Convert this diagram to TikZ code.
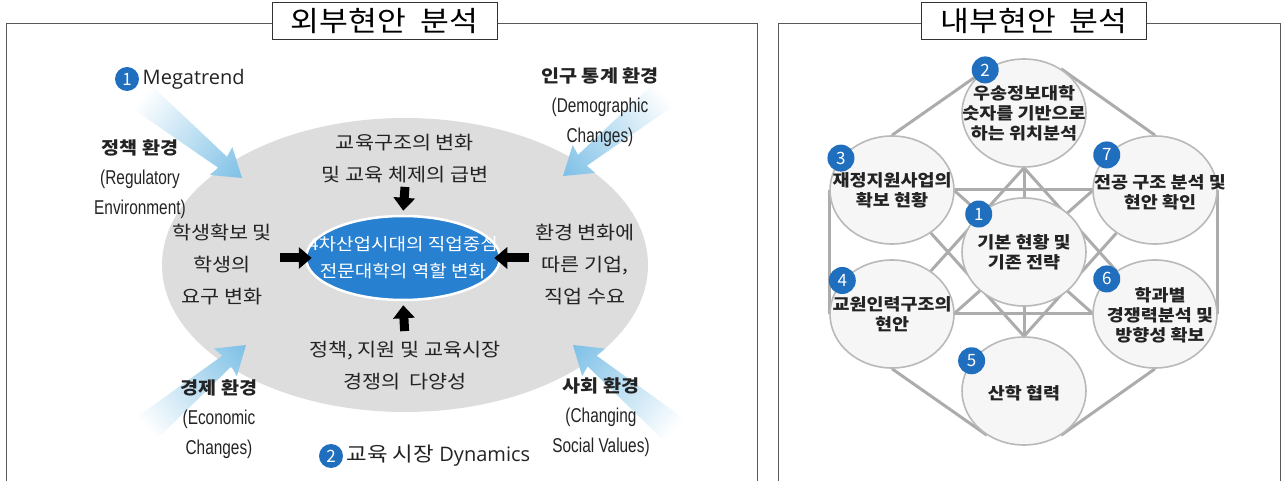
\documentclass[tikz,border=0pt]{standalone}
\usepackage{fontspec}
\setmainfont{Liberation Sans}
\newfontfamily\kr[FakeStretch=1.12]{Noto Sans CJK KR}
\newfontfamily\krplain{Noto Sans CJK KR}
\newfontfamily\narrow[FakeStretch=0.77]{Liberation Sans}
\newfontfamily\open{Open Sans}
\usetikzlibrary{shapes.geometric,arrows.meta,backgrounds}

\definecolor{ovalgray}{RGB}{221,221,221}
\definecolor{coreblue}{RGB}{40,128,208}
\definecolor{fadeblue}{RGB}{125,192,230}
\definecolor{badgeblue}{RGB}{32,110,190}
\definecolor{linkgray}{RGB}{172,172,172}
\definecolor{ballfill}{RGB}{246,246,246}
\definecolor{balledge}{RGB}{185,185,185}
\definecolor{inktext}{RGB}{35,35,35}

\newcommand\bolddesc[1]{{\kr\bfseries\fontsize{17.5}{30}\selectfont #1}}
\newcommand\engdesc[1]{{\narrow\fontsize{20}{30}\selectfont #1}}
\newcommand\fadearrow[4]{%
  \begin{scope}[transform canvas={shift={(#1,#2)},rotate=#3}]
    \shade[left color=white,right color=fadeblue]
      (0,0) -- (-27,-18) -- (-25,-7) -- (-#4,-15) -- (-#4,15) -- (-25,7) -- (-27,18) -- cycle;
  \end{scope}}

\begin{document}
\begin{tikzpicture}[x=1pt,y=-1pt,
    panel/.style={draw=black!65,line width=1pt},
    heading/.style={draw=black!80,fill=white,line width=1pt,minimum width=225pt,minimum height=37pt,inner sep=0pt,font=\kr\fontsize{28}{30}\selectfont},
    issue/.style={text=inktext,align=center,font=\kr\fontsize{18.5}{32}\selectfont},
    corner/.style={text=inktext,align=center,font=\fontsize{18}{30}\selectfont},
    push/.style={-{Triangle[width=21pt,length=13pt]},line width=9pt},
    ball/.style={ellipse,draw=balledge,fill=ballfill,line width=1.6pt,minimum width=124pt,minimum height=108pt,inner sep=0pt},
    balltext/.style={align=center,text=inktext,font=\kr\bfseries\fontsize{16.5}{20}\selectfont},
    badge/.style={circle,fill=badgeblue,text=white,minimum size=27pt,inner sep=0pt,font=\krplain\fontsize{17}{17}\selectfont},
    link/.style={draw=linkgray,line width=3pt}
  ]
  \useasboundingbox (0,0) rectangle (1286,481);

  % external issues
  \draw[panel] (6,481) -- (6,24) -- (757,24) -- (757,481);
  \node[heading] (outer) at (384.5,21.5) {외부현안\hspace{0.5em}분석};

  \node[ellipse,fill=ovalgray,minimum width=486pt,minimum height=294pt] (field) at (405,265) {};
  \fadearrow{242}{178}{-39}{129}
  \fadearrow{563}{176}{-141}{130}
  \fadearrow{246}{345}{40}{130}
  \fadearrow{573}{345}{140}{132}

  \node[ellipse,fill=coreblue,draw=white,line width=2.5pt,minimum width=194pt,minimum height=84pt] (core) at (403,258) {};
  \node[text=white,align=center,font=\kr\fontsize{17}{27}\selectfont] (coretitle) at (core) {4차산업시대의 직업중심\\전문대학의 역할 변화};

  \node[issue] (shift) at (405,159) {교육구조의 변화\\및 교육 체제의 급변};
  \node[issue] (student) at (222,265) {학생확보 및\\학생의\\요구 변화};
  \node[issue] (industry) at (585,265) {환경 변화에\\따른 기업,\\직업 수요};
  \node[issue] (market) at (405,366) {정책, 지원 및 교육시장\\경쟁의\ \ 다양성};

  \draw[push,shorten >=4pt] (shift.south) -- (core.north);
  \draw[push,shorten <=7pt,shorten >=4pt] (market.north) -- (core.south);
  \draw[push,shorten <=4pt,shorten >=-7pt] (student.east |- core.west) -- (core.west);
  \draw[push,shorten <=2pt,shorten >=-7pt] (industry.west |- core.east) -- (core.east);

  \node[badge,minimum size=24pt] (m1) at (127,79) {1};
  \node[anchor=west,text=inktext,font=\open\fontsize{20}{24}\selectfont] (mega) at (m1.east) {Megatrend};
  \node[badge,minimum size=24pt] (m2) at (331,456) {2};
  \node[anchor=west,text=inktext,font=\open\fontsize{20}{24}\selectfont] (dyn) at (m2.east) {{\kr 교육 시장} Dynamics};

  \node[corner] (policy) at (140,179) {\bolddesc{정책 환경}\\\engdesc{(Regulatory}\\\engdesc{Environment)}};
  \node[corner] (demog) at (600,107) {\bolddesc{인구 통계 환경}\\\engdesc{(Demographic}\\\engdesc{Changes)}};
  \node[corner] (econ) at (219,419) {\bolddesc{경제 환경}\\\engdesc{(Economic}\\\engdesc{Changes)}};
  \node[corner] (social) at (601,417) {\bolddesc{사회 환경}\\\engdesc{(Changing}\\\engdesc{Social Values)}};

  % internal issues
  \draw[panel] (778,481) -- (778,24) -- (1280,24) -- (1280,481);
  \node[heading] (inner) at (1034,21.5) {내부현안\hspace{0.5em}분석};

  \node[ball] (c2) at (1024,113) {};
  \node[ball] (c3) at (892,190) {};
  \node[ball] (c7) at (1155,190) {};
  \node[ball] (c1) at (1024,252) {};
  \node[ball] (c4) at (892,314) {};
  \node[ball] (c6) at (1155,314) {};
  \node[ball] (c5) at (1024,391) {};

  \begin{scope}[on background layer]
    \draw[link] (c3.north) -- (c2.130) (c7.north) -- (c2.50);
    \draw[link] (c3.west) -- (c4.west) (c7.east) -- (c6.east);
    \draw[link] (c4.south) -- (c5.230) (c6.south) -- (c5.310);
    \draw[link] (c3) -- (c7) (c4) -- (c6) (c2) -- (c5);
    \draw[link] (c4) -- (c2.south) -- (c6);
    \draw[link] (c3) -- (c5.north) -- (c7);
    \draw[link] (c3.north) -- (c6.south) (c7.north) -- (c4.south);
  \end{scope}

  \node[balltext] (t2) at (c2) {우송정보대학\\숫자를 기반으로\\하는 위치분석};
  \node[balltext] (t3) at (c3) {재정지원사업의\\확보 현황};
  \node[balltext] (t7) at (1160,192) {전공 구조 분석 및\\현안 확인};
  \node[balltext] (t1) at (c1) {기본 현황 및\\기존 전략};
  \node[balltext] (t4) at (c4) {교원인력구조의\\현안};
  \node[balltext] (t6) at (1160,315) {학과별\\경쟁력분석 및\\방향성 확보};
  \node[balltext] (t5) at (1024,393) {산학 협력};

  \node[badge] (n2) at (c2.132) {2};
  \node[badge] (n3) at (c3.148) {3};
  \node[badge] (n7) at (c7.144) {7};
  \node[badge] (n1) at (c1.140) {1};
  \node[badge] (n4) at (c4.146) {4};
  \node[badge] (n6) at (c6.144) {6};
  \node[badge] (n5) at (c5.150) {5};
\end{tikzpicture}
\end{document}
